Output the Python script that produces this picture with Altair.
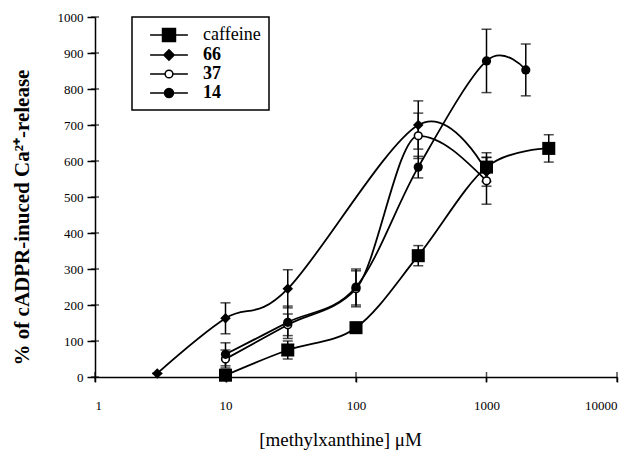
import altair as alt
import pandas as pd

# ---- data ----
series_names = ["caffeine", "66", "37", "14"]

caff_x = [10, 30, 100, 300, 1000, 3000]
caff_y = [5, 75, 137, 337, 583, 635]
caff_e = [6, 25, 10, 28, 40, 38]

s66_x = [3, 10, 30, 300, 1000]
s66_y = [10, 163, 245, 700, 570]
s66_e = [0, 43, 53, 67, 40]

s37_x = [10, 30, 100, 300, 1000]
s37_y = [50, 145, 245, 670, 545]
s37_e = [25, 30, 50, 63, 65]

s14_x = [10, 30, 100, 300, 1000, 2000]
s14_y = [63, 152, 250, 583, 878, 853]
s14_e = [32, 45, 50, 30, 88, 72]

x_ticks = [1, 10, 100, 1000, 10000]
y_ticks = list(range(0, 1001, 100))

rows = []
for name, xs, ys, es in [("caffeine", caff_x, caff_y, caff_e),
                         ("66", s66_x, s66_y, s66_e),
                         ("37", s37_x, s37_y, s37_e),
                         ("14", s14_x, s14_y, s14_e)]:
    for x, y, e in zip(xs, ys, es):
        rows.append({"series": name, "x": x, "y": y, "lo": y - e, "hi": y + e})
df = pd.DataFrame(rows)

FONT = "Liberation Serif"
W, H = 522, 360

xscale = alt.Scale(type="log", domain=[1, 10000], nice=False)
yscale = alt.Scale(domain=[0, 1000], nice=False)

xaxis = alt.Axis(values=x_ticks, format="d", title="[methylxanthine] \u03bcM",
                 grid=False, tickSize=5, labelPadding=17, labelFont=FONT,
                 labelFontSize=13, titleFont=FONT, titleFontSize=19,
                 titleFontWeight="normal", titleX=245, titleY=62,
                 titleBaseline="middle", domainColor="black", tickColor="black",
                 domainWidth=1.5, tickWidth=1.5, labelColor="black",
                 titleColor="black", labelOverlap=False)
yaxis = alt.Axis(values=y_ticks, format="d",
                 title="% of cADPR-inuced Ca\u00b2\u207a-release",
                 grid=False, tickSize=8, labelPadding=4, labelFont=FONT,
                 labelFontSize=13, titleFont=FONT, titleFontSize=21,
                 titleFontWeight="bold", titleX=-73, titleY=200,
                 titleBaseline="middle", titleAlign="center",
                 domainColor="black", tickColor="black",
                 domainWidth=1.5, tickWidth=1.5, labelColor="black",
                 titleColor="black", labelOverlap=False)

X = alt.X("x:Q", scale=xscale, axis=xaxis)
Y = alt.Y("y:Q", scale=yscale, axis=yaxis)
YLO = alt.Y("lo:Q", scale=yscale, axis=yaxis)
YHI = alt.Y("hi:Q", scale=yscale, axis=yaxis)

base = alt.Chart(df)

line_cat = base.transform_filter(alt.datum.series != "37").mark_line(
    interpolate="cardinal", color="black", strokeWidth=1.8).encode(
    x=X, y=Y, detail="series:N")
line_mono = base.transform_filter(alt.datum.series == "37").mark_line(
    interpolate="monotone", color="black", strokeWidth=1.8).encode(
    x=X, y=Y)

err_rule = base.mark_rule(color="black", strokeWidth=1.5).encode(
    x=X, y=YLO, y2="hi:Q")
cap_lo = base.mark_tick(orient="horizontal", size=10, thickness=1.5, color="black").encode(
    x=X, y=YLO)
cap_hi = base.mark_tick(orient="horizontal", size=10, thickness=1.5, color="black").encode(
    x=X, y=YHI)

pts_caff = base.transform_filter(alt.datum.series == "caffeine").mark_point(
    shape="square", size=170, filled=True, color="black", opacity=1).encode(x=X, y=Y)
pts_66 = base.transform_filter(alt.datum.series == "66").mark_point(
    shape="diamond", size=110, filled=True, color="black", opacity=1).encode(x=X, y=Y)
pts_37 = base.transform_filter(alt.datum.series == "37").mark_point(
    shape="circle", size=60, filled=True, fill="white", stroke="black",
    strokeWidth=1.6, opacity=1).encode(x=X, y=Y)
pts_14 = base.transform_filter(alt.datum.series == "14").mark_point(
    shape="circle", size=85, filled=True, color="black", opacity=1).encode(x=X, y=Y)

# crossing tick marks on the axes
ytick_df = pd.DataFrame({"y": y_ticks})
xtick_df = pd.DataFrame({"x": x_ticks})
ytk = alt.Chart(ytick_df).mark_tick(orient="horizontal", size=8, thickness=1.5,
                                    color="black").encode(y=Y, x=alt.value(0))
xtk = alt.Chart(xtick_df).mark_tick(orient="vertical", size=10, thickness=1.5,
                                    color="black").encode(x=X, y=alt.value(H))

# legend (symbols with a line through them)
leg_df = pd.DataFrame({"series": series_names})
paths = [
    "M-2.1,0H2.1M-0.72,-0.72H0.72V0.72H-0.72Z",
    "M-2.1,0H2.1M-0.58,0L0,-0.58L0.58,0L0,0.58Z",
    "M-2.1,0H-0.43M0.43,0H2.1M0.43,0A0.43,0.43,0,1,1,-0.43,0A0.43,0.43,0,1,1,0.43,0",
    "M-2.1,0H2.1M0.5,0A0.5,0.5,0,1,1,-0.5,0A0.5,0.5,0,1,1,0.5,0",
]
fills = ["black", "black", "white", "black"]
strokes = ["black", "black", "black", "black"]
leg_common = dict(
    title=None, orient="none", legendX=37, legendY=0, strokeColor="black",
    padding=8, symbolSize=324, symbolStrokeColor="black", symbolStrokeWidth=1.5,
    symbolOffset=19, labelOffset=24, labelFont=FONT, labelFontSize=18,
    labelColor="black", rowPadding=0, symbolOpacity=1,
    labelFontWeight={"expr": "datum.label == 'caffeine' ? 'normal' : 'bold'"},
)
legend_layer = alt.Chart(leg_df).mark_point(filled=False, strokeWidth=1.5,
                                            opacity=1).encode(
    x=alt.value(-300), y=alt.value(-300),
    shape=alt.Shape("series:N", scale=alt.Scale(domain=series_names, range=paths),
                    legend=alt.Legend(**leg_common)),
    fill=alt.Fill("series:N", scale=alt.Scale(domain=series_names, range=fills),
                  legend=alt.Legend(**leg_common)),
    stroke=alt.Stroke("series:N", scale=alt.Scale(domain=series_names, range=strokes),
                      legend=alt.Legend(**leg_common)),
)

chart = alt.layer(
    line_cat, line_mono, err_rule, cap_lo, cap_hi,
    pts_caff, pts_66, pts_37, pts_14, ytk, xtk, legend_layer
).properties(
    width=W, height=H,
    autosize=alt.AutoSizeParams(type="none"),
    padding={"left": 87, "top": 9, "right": 12, "bottom": 76},
).configure_view(stroke=None).configure_legend(strokeWidth=1.5)

chart.save("out.html", embed_options={"renderer": "svg", "actions": False})
